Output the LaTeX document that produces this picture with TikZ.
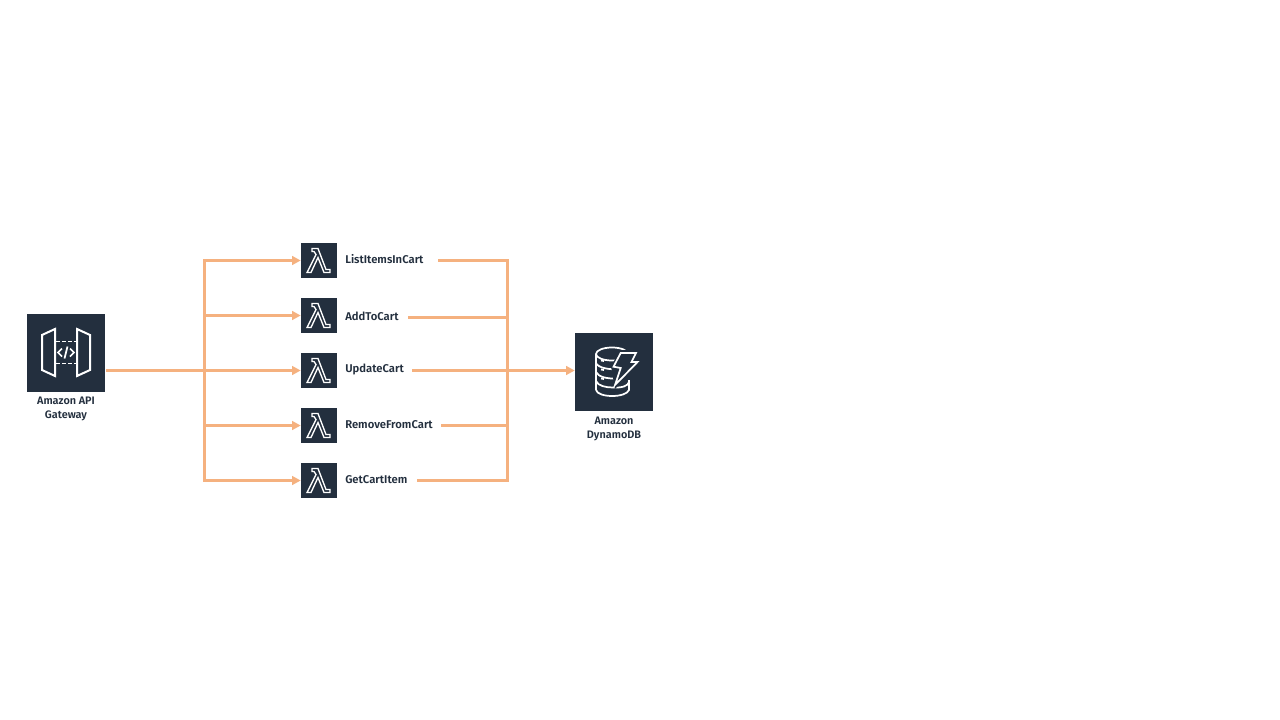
\documentclass[tikz,border=0pt]{standalone}
\usepackage{fontspec}
\setmainfont{Fira Sans}[BoldFont={Fira Sans SemiBold}]
\usetikzlibrary{arrows.meta,calc}
\definecolor{navy}{HTML}{232F3E}
\definecolor{flow}{HTML}{F5B17F}
\tikzset{
  bigicon/.style={fill=navy,draw=none,minimum size=58.5pt,inner sep=0pt},
  fnicon/.style={fill=navy,draw=none,minimum width=27pt,minimum height=26.5pt,inner sep=0pt},
  caption/.style={font=\bfseries\fontsize{8.15pt}{10.5pt}\selectfont,text=navy,align=center,inner sep=0pt},
  fnlabel/.style={font=\bfseries\fontsize{8.45pt}{10pt}\selectfont,text=navy,anchor=west,inner sep=0pt},
  glyph/.style={draw=white,line width=1.3pt,line join=miter},
  thinflow/.style={draw=flow,line width=2.25pt},
  heavyflow/.style={draw=flow,line width=2.6pt},
  tip/.style={-{Triangle[length=6.5pt,width=6.5pt]}},
}
\newcommand{\lambdaglyph}[1]{%
  \draw[glyph,line width=1pt,shift={(#1)}]
    (-7,-12)--(-1,-12)--(7,9)--(11,9)--(11,12)--(5,12)--(-1,-3)--(-8,12)--(-12,12)--(-3,-6)--(-5,-9)--(-7,-9)--cycle;}
\begin{document}
\begin{tikzpicture}[x=0.75pt,y=-0.75pt]
\useasboundingbox (0,0) rectangle (1280,720);
\fill[white] (0,0) rectangle (1280,720);

% Nodes
\node[bigicon] (api) at (66,352.5) {};
\node[caption] (apilabel) at (66,408.5) {Amazon API\\Gateway};
\node[bigicon] (ddb) at (614,372) {};
\node[caption] (ddblabel) at (614,428.5) {Amazon\\DynamoDB};

\node[fnicon] (f1) at (319,260.5) {};
\node[fnicon] (f2) at (319,315.5) {};
\node[fnicon] (f3) at (319,370.5) {};
\node[fnicon] (f4) at (319,425.5) {};
\node[fnicon] (f5) at (319,480.5) {};
\node[fnlabel] (l1) at (345,259.5) {ListItemsInCart};
\node[fnlabel] (l2) at (345,316.5) {AddToCart};
\node[fnlabel] (l3) at (345,369.5) {UpdateCart};
\node[fnlabel] (l4) at (345,424.5) {RemoveFromCart};
\node[fnlabel] (l5) at (345,479.5) {GetCartItem};

\lambdaglyph{319,260.5}
\lambdaglyph{319,315.5}
\lambdaglyph{319,370.5}
\lambdaglyph{319,425.5}
\lambdaglyph{319,480.5}

% API Gateway glyph
\draw[glyph,line width=1.5pt] (42,335)--(55,329)--(55,376)--(42,370)--cycle;
\draw[glyph,line width=1.5pt] (77,329)--(90,335)--(90,370)--(77,376)--cycle;
\draw[glyph,dash pattern=on 3pt off 1.6pt] (56,341.5)--(76,341.5);
\draw[glyph,dash pattern=on 3pt off 1.6pt] (56,363.5)--(76,363.5);
\draw[glyph] (62,348.5)--(58,352.5)--(62,356.5);
\draw[glyph] (70,348.5)--(74,352.5)--(70,356.5);
\draw[glyph] (67.5,346.5)--(64.5,358.5);

% DynamoDB glyph
\draw[glyph] (612,354) ellipse (16 and 6.5);
\draw[glyph] (596,354)--(596,390);
\draw[glyph] (596,363) .. controls (598,368) and (610,370) .. (619,369);
\draw[glyph] (596,372) .. controls (598,377) and (608,379) .. (617,378.5);
\draw[glyph] (596,381) .. controls (598,386) and (606,387.5) .. (613,387.5);
\draw[glyph] (596,390) .. controls (598,398) and (626,398) .. (629,390) -- (629,380);
\draw[glyph] (629,382) .. controls (628,386) and (622,388) .. (613,387.5);
\fill[navy] (620.7,350)--(637,350)--(640,362)--(615,389)--(611,366)--cycle;
\draw[glyph] (620.7,353)--(636,353)--(631.5,362)--(637.5,362)--(615,385)--(620.7,368)--(613.5,366.7)--cycle;
\draw[glyph] (601,360.5)--(604,361);
\draw[glyph] (601,369.5)--(604,370);
\draw[glyph] (601,378.5)--(604,379);

% Junctions and free ends
\coordinate (west) at (204.5,370.5);
\coordinate (east) at (507.5,370.5);
\coordinate (s1) at (438,260.5);
\coordinate (s2) at (408,317.5);
\coordinate (s3) at (412,370.5);
\coordinate (s4) at (441,425.5);
\coordinate (s5) at (417,480.5);

% Connectors
\draw[heavyflow] (api.east |- west) ++(1,0) -- (west);
\draw[thinflow,tip] (west) |- (f1.west);
\draw[thinflow,tip] (west) |- (f2.west);
\draw[thinflow,tip] (west) -- (f3.west);
\draw[thinflow,tip] (west) |- (f4.west);
\draw[thinflow,tip] (west) |- (f5.west);
\draw[thinflow] (s1) -| (east);
\draw[thinflow] (s2) -| (east);
\draw[thinflow] (s3) -- (east);
\draw[thinflow] (s4) -| (east);
\draw[thinflow] (s5) -| (east);
\draw[heavyflow,tip] (east) -- (ddb.west |- east);
\end{tikzpicture}
\end{document}
